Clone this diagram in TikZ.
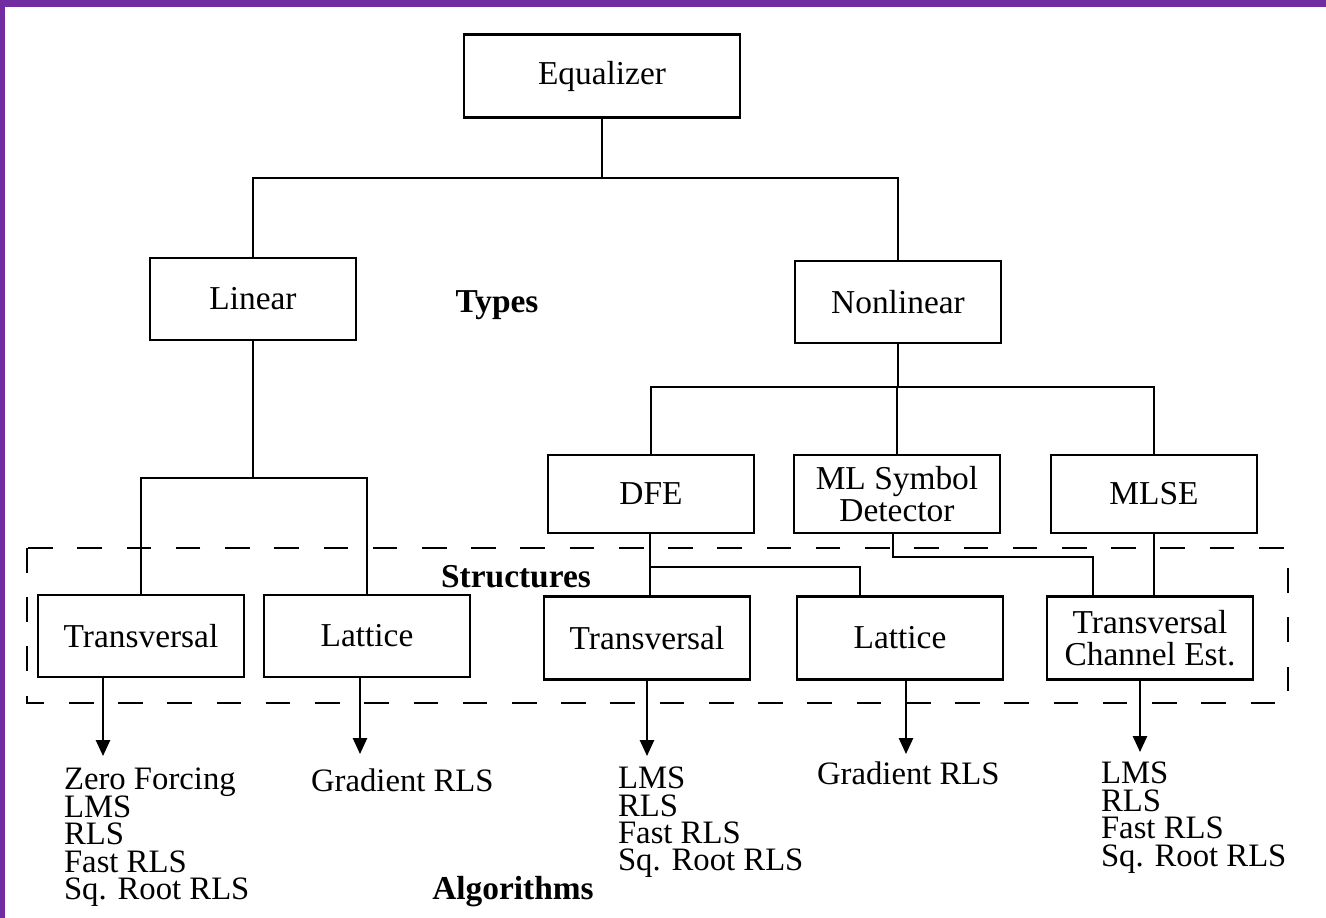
\documentclass[tikz,border=0pt]{standalone}
\usepackage{fontspec}
\setmainfont{Liberation Serif}
\usetikzlibrary{arrows.meta}
\definecolor{framepurple}{RGB}{112,44,160}
\newcommand\listfont{\fontsize{9.3}{7.8}\selectfont\lineskiplimit=-20pt\relax}
\tikzset{
  blk/.style={draw, minimum width=2.06cm, minimum height=0.82cm, align=center, font=\fontsize{9.5}{9}\selectfont},
  alglist/.style={anchor=north west, inner sep=0pt, align=left, font=\listfont},
  lbl/.style={font=\fontsize{9.5}{11}\selectfont\bfseries},
  arr/.style={-{Triangle[width=4pt,length=4.5pt]}},
}
\begin{document}
\begin{tikzpicture}[x=0.01cm,y=-0.01cm,line width=0.6pt]
   \useasboundingbox (0,0) rectangle (1326,918);
   \fill[framepurple] (0,0) rectangle (1326,7);
   \fill[framepurple] (0,0) rectangle (5,918);
   \node[blk,minimum width=2.75cm,minimum height=0.83cm] (eq) at (602,76) {Equalizer};
   \node[blk] (lin) at (253,299) {Linear};
   \node[blk] (nonlin) at (898,302) {Nonlinear};
   \node[lbl] (types) at (497,305) {Types};
   \node[blk,minimum height=0.78cm] (dfe) at (651,494) {DFE};
   \node[blk,minimum height=0.78cm] (mlsd) at (897,494) {ML Symbol\\Detector};
   \node[blk,minimum height=0.78cm] (mlse) at (1154,494) {MLSE};
   \draw[dash pattern=on 7pt off 7pt] (27,548) rectangle (1288,703);
   \node[lbl] (struct) at (516,577) {Structures};
   \node[blk] (tr1) at (141,636) {Transversal};
   \node[blk] (lat1) at (367,636) {Lattice};
   \node[blk,minimum height=0.83cm] (tr2) at (647,638) {Transversal};
   \node[blk,minimum height=0.83cm] (lat2) at (900,638) {Lattice};
   \node[blk,minimum height=0.83cm] (tce) at (1150,638) {Transversal\\Channel Est.};
   \coordinate (eqj) at (602,178);
   \draw (eq) -- (eqj) -| (lin);
   \draw (eqj) -| (nonlin);
   \coordinate (linj) at (253,478);
   \draw (lin) -- (linj) -| (tr1);
   \draw (linj) -| (lat1);
   \coordinate (nlj) at (898,387);
   \draw (nonlin) -- (nlj) -| (dfe);
   \draw (nlj) -| (mlsd);
   \draw (nlj) -| (mlse);
   \coordinate (dfej) at (650,567);
   \draw (dfe.south -| dfej) -- (tr2.north -| dfej);
   \draw (dfej) -| ([xshift=-0.4cm]lat2.north);
   \coordinate (mlj) at (893,557);
   \draw (mlsd.south -| mlj) -- (mlj) -| ([xshift=-0.57cm]tce.north);
   \draw (mlse.south) -- (mlse.south |- tce.north);
   \coordinate (a1) at (103,756);
   \coordinate (a2) at (360,754);
   \coordinate (a3) at (647,756);
   \coordinate (a4) at (906,754);
   \coordinate (a5) at (1140,752);
   \draw[arr] (tr1.south -| a1) -- (a1);
   \draw[arr] (lat1.south -| a2) -- (a2);
   \draw[arr] (tr2.south -| a3) -- (a3);
   \draw[arr] (lat2.south -| a4) -- (a4);
   \draw[arr] (tce.south -| a5) -- (a5);
   \node[alglist] (alg1) at (63,767) {Zero Forcing\\LMS\\RLS\\Fast RLS\\Sq. Root RLS};
   \node[alglist] (alg2) at (310,768) {Gradient RLS};
   \node[alglist] (alg3) at (617,766) {LMS\\RLS\\Fast RLS\\Sq. Root RLS};
   \node[alglist] (alg4) at (816,761) {Gradient RLS};
   \node[alglist] (alg5) at (1100,761) {LMS\\RLS\\Fast RLS\\Sq. Root RLS};
   \node[lbl] (algs) at (513,892) {Algorithms};
\end{tikzpicture}
\end{document}
